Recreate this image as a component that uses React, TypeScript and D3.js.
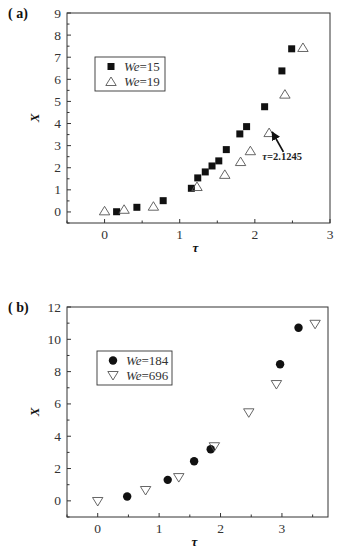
import React from "react"
import * as d3 from "d3"

// panel (a)
const tauA15 = [0.16, 0.43, 0.78, 1.155, 1.24, 1.34, 1.43, 1.52, 1.62, 1.8, 1.89, 2.13, 2.36, 2.49]
const xA15 = [0.01, 0.21, 0.51, 1.07, 1.54, 1.81, 2.08, 2.31, 2.82, 3.53, 3.86, 4.76, 6.38, 7.38]
const tauA19 = [0, 0.26, 0.65, 1.23, 1.6, 1.81, 1.94, 2.19, 2.4, 2.64]
const xA19 = [0.05, 0.12, 0.26, 1.15, 1.7, 2.28, 2.77, 3.59, 5.33, 7.44]
const xTicksA = [0, 1, 2, 3]
const yTicksA = [0, 1, 2, 3, 4, 5, 6, 7, 8, 9]

// panel (b)
const tauB184 = [0.48, 1.14, 1.57, 1.84, 2.97, 3.27]
const xB184 = [0.27, 1.3, 2.45, 3.19, 8.46, 10.72]
const tauB696 = [0, 0.78, 1.32, 1.9, 2.46, 2.91, 3.54]
const xB696 = [-0.04, 0.64, 1.44, 3.35, 5.45, 7.2, 10.93]
const xTicksB = [0, 1, 2, 3]
const yTicksB = [0, 2, 4, 6, 8, 10, 12]

const font = "Times New Roman, Liberation Serif, Times, serif"
const ink = "#333"

type Series = { tau: number[]; x: number[]; shape: string; label: string }

function Marker({ shape, cx, cy }: { shape: string; cx: number; cy: number }) {
  if (shape === "square")
    return <rect x={cx - 3.5} y={cy - 3.5} width={7} height={7} fill="#111" />
  if (shape === "circle") return <circle cx={cx} cy={cy} r={4.2} fill="#111" />
  if (shape === "up")
    return (
      <path
        d={`M${cx},${cy - 4.5}L${cx + 5.2},${cy + 4}L${cx - 5.2},${cy + 4}Z`}
        fill="none"
        stroke="#555"
        strokeWidth={0.9}
      />
    )
  return (
    <path
      d={`M${cx - 5.2},${cy - 4}L${cx + 5.2},${cy - 4}L${cx},${cy + 4.5}Z`}
      fill="none"
      stroke="#555"
      strokeWidth={0.9}
    />
  )
}

function Panel(props: {
  tag: string
  left: number
  right: number
  top: number
  bottom: number
  xDomain: [number, number]
  yDomain: [number, number]
  xTicks: number[]
  yTicks: number[]
  xMinor: number
  yMinor: number
  series: Series[]
  legend: { x: number; y: number; w: number; h: number }
  children?: (x: d3.ScaleLinear<number, number>, y: d3.ScaleLinear<number, number>) => React.ReactNode
}) {
  const { left, right, top, bottom } = props
  const x = d3.scaleLinear().domain(props.xDomain).range([left, right])
  const y = d3.scaleLinear().domain(props.yDomain).range([bottom, top])
  const xMinor = d3.range(Math.ceil(props.xDomain[0] / props.xMinor), Math.floor(props.xDomain[1] / props.xMinor) + 1).map(i => i * props.xMinor)
  const yMinor = d3.range(Math.ceil(props.yDomain[0] / props.yMinor), Math.floor(props.yDomain[1] / props.yMinor) + 1).map(i => i * props.yMinor)
  const lg = props.legend
  return (
    <g fontFamily={font}>
      <text x={8} y={top + 5} fontSize={14} fontWeight="bold" fill="#111">
        {"( " + props.tag + ")"}
      </text>
      {xMinor.map(t => (
        <line key={"xm" + t} x1={x(t)} x2={x(t)} y1={bottom} y2={bottom - (props.xTicks.includes(t) ? 4 : 2.5)} stroke={ink} />
      ))}
      {yMinor.map(t => (
        <line key={"ym" + t} x1={left} x2={left + (props.yTicks.includes(t) ? 4 : 2.5)} y1={y(t)} y2={y(t)} stroke={ink} />
      ))}
      <rect x={left} y={top} width={right - left} height={bottom - top} fill="none" stroke={ink} strokeWidth={1} />
      {props.xTicks.map(t => (
        <text key={"xt" + t} x={x(t)} y={bottom + 16} fontSize={13.5} textAnchor="middle" fill={ink}>
          {t}
        </text>
      ))}
      {props.yTicks.map(t => (
        <text key={"yt" + t} x={left - 6} y={y(t) + 4.5} fontSize={13.5} textAnchor="end" fill={ink}>
          {t}
        </text>
      ))}
      <text x={(left + right) / 2 - 3} y={bottom + 29} fontSize={13} fontStyle="italic" fontWeight="bold" textAnchor="middle" fill="#111">
        τ
      </text>
      <text
        transform={`translate(${left - 28},${(top + bottom) / 2}) rotate(-90)`}
        fontSize={13}
        fontStyle="italic"
        fontWeight="bold"
        textAnchor="middle"
        fill="#111"
      >
        X
      </text>
      {props.series.map(s =>
        s.tau.map((t, i) => <Marker key={s.label + i} shape={s.shape} cx={x(t)} cy={y(s.x[i])} />)
      )}
      <rect x={lg.x} y={lg.y} width={lg.w} height={lg.h} fill="white" stroke={ink} strokeWidth={0.9} />
      {props.series.map((s, i) => (
        <g key={"lg" + s.label}>
          <Marker shape={s.shape} cx={lg.x + 16} cy={lg.y + 9.5 + i * 15} />
          <text x={lg.x + 29} y={lg.y + 14 + i * 15} fontSize={13} fill={ink}>
            <tspan fontStyle="italic">We</tspan>
            {"=" + s.label}
          </text>
        </g>
      ))}
      {props.children && props.children(x, y)}
    </g>
  )
}

export default function App() {
  return (
    <svg width={339} height={550} style={{ position: "absolute", left: 0, top: 0, background: "white" }}>
      <Panel
        tag="a"
        left={67}
        right={330}
        top={13}
        bottom={223}
        xDomain={[-0.5, 3]}
        yDomain={[-0.5, 9]}
        xTicks={xTicksA}
        yTicks={yTicksA}
        xMinor={0.5}
        yMinor={0.5}
        series={[
          { tau: tauA15, x: xA15, shape: "square", label: "15" },
          { tau: tauA19, x: xA19, shape: "up", label: "19" },
        ]}
        legend={{ x: 95, y: 57, w: 70, h: 34 }}
      >
        {(x, y) => (
          <g>
            <defs>
              <marker id="arr" viewBox="0 0 10 10" refX={9} refY={5} markerWidth={5} markerHeight={5} orient="auto">
                <path d="M0,0L10,5L0,10Z" fill="#111" />
              </marker>
            </defs>
            <line x1={x(2.38)} y1={y(2.72)} x2={x(2.23)} y2={y(3.62)} stroke="#111" strokeWidth={1.8} markerEnd="url(#arr)" />
            <text x={x(2.1)} y={y(2.35)} fontSize={10.5} fontWeight="bold" fill="#222">
              <tspan fontStyle="italic">τ</tspan>=2.1245
            </text>
          </g>
        )}
      </Panel>
      <Panel
        tag="b"
        left={67}
        right={328}
        top={307}
        bottom={517}
        xDomain={[-0.5, 3.75]}
        yDomain={[-1, 12]}
        xTicks={xTicksB}
        yTicks={yTicksB}
        xMinor={0.5}
        yMinor={1}
        series={[
          { tau: tauB184, x: xB184, shape: "circle", label: "184" },
          { tau: tauB696, x: xB696, shape: "down", label: "696" },
        ]}
        legend={{ x: 97, y: 351, w: 75, h: 34 }}
      />
    </svg>
  )
}
